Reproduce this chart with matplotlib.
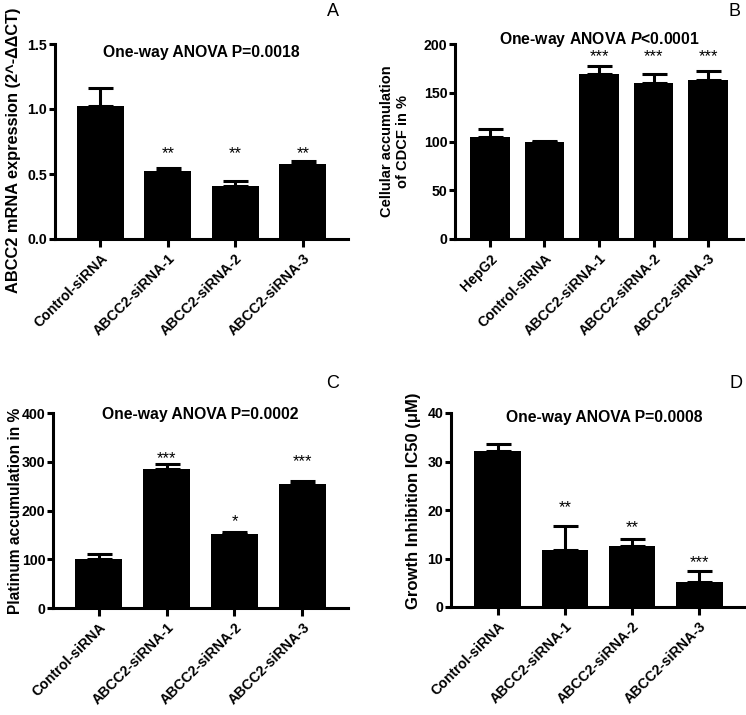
import numpy as np
import matplotlib
matplotlib.use("Agg")
from matplotlib import pyplot as plt
from matplotlib import ticker

plt.rcParams['font.family'] = ['Liberation Sans', 'DejaVu Sans']
plt.rcParams['font.weight'] = 'bold'
plt.rcParams['mathtext.fontset'] = 'custom'
plt.rcParams['mathtext.it'] = 'Liberation Sans:bold:italic'
plt.rcParams['mathtext.rm'] = 'Liberation Sans:bold'

# Data ---------------------------------------------------------#
labels_a = ["Control-siRNA", "ABCC2-siRNA-1", "ABCC2-siRNA-2", "ABCC2-siRNA-3"]
mean_a = [1.02, 0.52, 0.41, 0.575]
err_a = [0.14, 0.03, 0.04, 0.025]
stars_a = ["", "**", "**", "**"]
star_y_a = [0, 0.70, 0.70, 0.70]

labels_b = ["HepG2", "Control-siRNA", "ABCC2-siRNA-1", "ABCC2-siRNA-2", "ABCC2-siRNA-3"]
mean_b = [105, 100, 169, 160, 163]
err_b = [8, 1, 8, 9, 9]
stars_b = ["", "", "***", "***", "***"]
star_y_b = [0, 0, 192, 192, 192]

labels_c = labels_a
mean_c = [100, 285, 152, 255]
err_c = [10, 11, 4, 6]
stars_c = ["", "***", "*", "***"]
star_y_c = [0, 316, 187, 310]

labels_d = labels_a
mean_d = [32.2, 11.8, 12.5, 5.1]
err_d = [1.4, 4.8, 1.6, 2.4]
stars_d = ["", "**", "**", "***"]
star_y_d = [0, 21.6, 17.5, 10.3]

W, H = 746, 715
fig = plt.figure(figsize=(W/100, H/100), dpi=100)

def px_axes(l, r, t, b):
    return fig.add_axes([l/W, 1 - b/H, (r - l)/W, (b - t)/H])

def panel(ax, labels, mean, err, stars, star_y, ylim, yticks, ylabel, width, xpad,
          ylabel_size, ylabel_px, ylabel_y=0.5):
    x = np.arange(len(labels))
    ax.bar(x, mean, width=width, color='black', zorder=2)
    ax.errorbar(x, mean, yerr=[np.zeros(len(err)), err], fmt='none',
                ecolor='black', elinewidth=2.2, capsize=9, capthick=2.2, zorder=3)
    fs = 12
    for xi, s, sy in zip(x, stars, star_y):
        if s:
            # put the asterisk glyph centre on the star height
            ax.annotate(s, (xi, sy), xytext=(0, -0.58*fs), textcoords='offset points',
                        ha='center', va='baseline', fontsize=fs, fontweight='normal')
    ax.set_xlim(-xpad, len(labels) - 1 + xpad)
    ax.set_ylim(*ylim)
    ax.set_yticks(yticks)
    ax.set_xticks(x)
    ax.set_xticklabels(labels, rotation=45, ha='right', rotation_mode='anchor', fontsize=11)
    ax.set_ylabel(ylabel, fontsize=ylabel_size, fontweight='bold')
    pos = ax.get_position()
    ax.yaxis.set_label_coords((ylabel_px/W - pos.x0)/pos.width, ylabel_y)
    for s in ['top', 'right']:
        ax.spines[s].set_visible(False)
    for s in ['left', 'bottom']:
        ax.spines[s].set_linewidth(2.2)
    ax.tick_params(width=2.2, length=4.5, labelsize=10.2, direction='out', pad=1)
    ax.tick_params(axis='x', length=6, pad=3)

ax_a = px_axes(55, 348, 44, 239)
panel(ax_a, labels_a, mean_a, err_a, stars_a, star_y_a, (0, 1.5),
      [0.0, 0.5, 1.0, 1.5], "ABCC2 mRNA expression (2^-ΔΔCT)", 0.7, 0.67, 11.8, 21, 0.456)
ax_a.yaxis.set_major_formatter(ticker.FormatStrFormatter('%.1f'))
ax_a.text(0.5, 0.955, "One-way ANOVA P=0.0018", transform=ax_a.transAxes,
          ha='center', va='center', fontsize=11.3)

ax_b = px_axes(455, 743, 44, 239)
panel(ax_b, labels_b, mean_b, err_b, stars_b, star_y_b, (0, 200),
      [0, 50, 100, 150, 200], "Cellular accumulation\nof CDCF in %", 0.73, 0.64, 10.5, 410)
ax_b.text(0.5, 1.025, "One-way ANOVA $\\mathit{P}$<0.0001", transform=ax_b.transAxes,
          ha='center', va='center', fontsize=11.3)

ax_c = px_axes(53, 348, 413, 608)
panel(ax_c, labels_c, mean_c, err_c, stars_c, star_y_c, (0, 400),
      [0, 100, 200, 300, 400], "Platinum accumulation in %", 0.7, 0.67, 11.2, 23)
ax_c.text(0.5, 0.99, "One-way ANOVA P=0.0002", transform=ax_c.transAxes,
          ha='center', va='center', fontsize=11.3)

ax_d = px_axes(451, 746, 413, 607)
panel(ax_d, labels_d, mean_d, err_d, stars_d, star_y_d, (0, 40),
      [0, 10, 20, 30, 40], "Growth Inhibition IC50 (μM)", 0.7, 0.7, 12, 421, 0.55)
ax_d.text(0.52, 0.975, "One-way ANOVA P=0.0008", transform=ax_d.transAxes,
          ha='center', va='center', fontsize=11.3)

for letter, (px, py) in zip("ABCD", [(333, 11), (735, 11), (333, 383), (736, 383)]):
    fig.text(px/W, 1 - py/H, letter, ha='center', va='center', fontsize=13, fontweight='normal')

fig.savefig("out.png", dpi=100)
